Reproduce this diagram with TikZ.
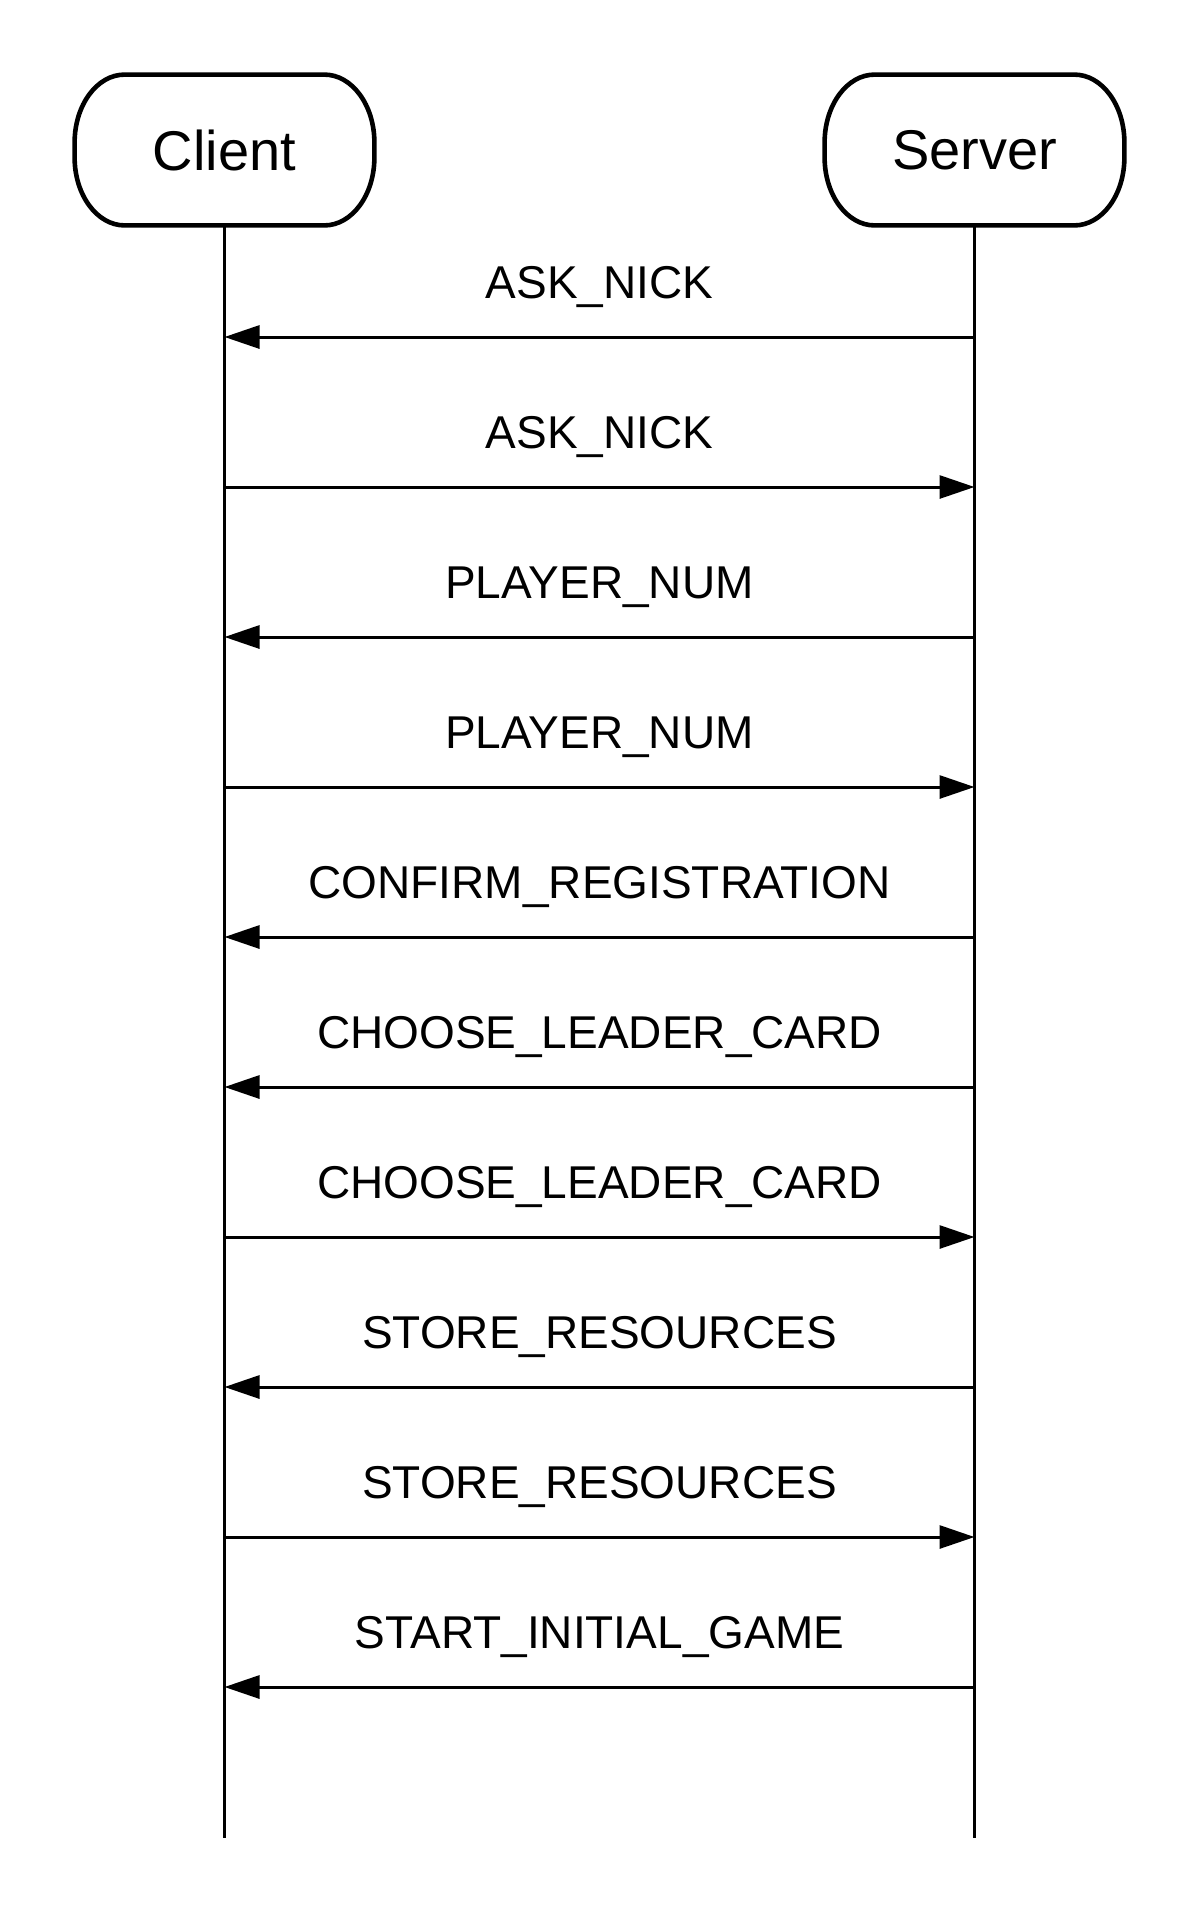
\documentclass[tikz,border=0pt]{standalone}
\usepackage{fontspec}
\setmainfont{Liberation Sans}
\usetikzlibrary{arrows.meta}
\begin{document}
\begin{tikzpicture}[x=0.5pt,y=-0.5pt]
\tikzset{
  actor/.style={minimum width=149.5pt,minimum height=75pt,inner sep=0pt,font=\fontsize{28}{34}\selectfont},
  lifeline/.style={line width=1.3pt},
  msg/.style={line width=1.5pt,-{Triangle[length=17.5pt,width=11.5pt]}},
  msglabel/.style={anchor=base,yshift=19.5pt,font=\fontsize{23}{28}\selectfont}
}
\useasboundingbox (0,0) rectangle (1200,1913);
% participantes
\node[actor] (client) at (224.5,150) {Client};
\node[actor] (server) at (974.5,150) {Server};

% contorno arredondado das caixas
\foreach \p in {client,server}
  \draw[line width=2.3pt] ([xshift=25pt]\p.north west) -- ([xshift=-25pt]\p.north east)
    arc[start angle=90,end angle=0,x radius=25pt,y radius=34pt]
    -- ([yshift=34pt]\p.south east)
    arc[start angle=0,end angle=-90,x radius=25pt,y radius=34pt]
    -- ([xshift=25pt]\p.south west)
    arc[start angle=270,end angle=180,x radius=25pt,y radius=34pt]
    -- ([yshift=-34pt]\p.north west)
    arc[start angle=180,end angle=90,x radius=25pt,y radius=34pt] -- cycle;

% linhas de vida
\coordinate (cend) at (224.5,1838);
\coordinate (send) at (974.5,1838);
\draw[lifeline] (client.south) -- (cend);
\draw[lifeline] (server.south) -- (send);

% mensagens (de / para / texto)
\foreach \i/\a/\b/\lbl in {1/s/c/ASK\_NICK, 2/c/s/ASK\_NICK,
    3/s/c/PLAYER\_NUM, 4/c/s/PLAYER\_NUM,
    5/s/c/CONFIRM\_REGISTRATION,
    6/s/c/CHOOSE\_LEADER\_CARD, 7/c/s/CHOOSE\_LEADER\_CARD,
    8/s/c/STORE\_RESOURCES, 9/c/s/STORE\_RESOURCES,
    10/s/c/START\_INITIAL\_GAME}{
  \pgfmathsetmacro\yy{187+150*\i}
  \coordinate (c\i) at (224.5,\yy);
  \coordinate (s\i) at (974.5,\yy);
  \draw[msg] (\a\i) -- (\b\i) node[midway,msglabel] {\lbl};
}
\end{tikzpicture}
\end{document}
